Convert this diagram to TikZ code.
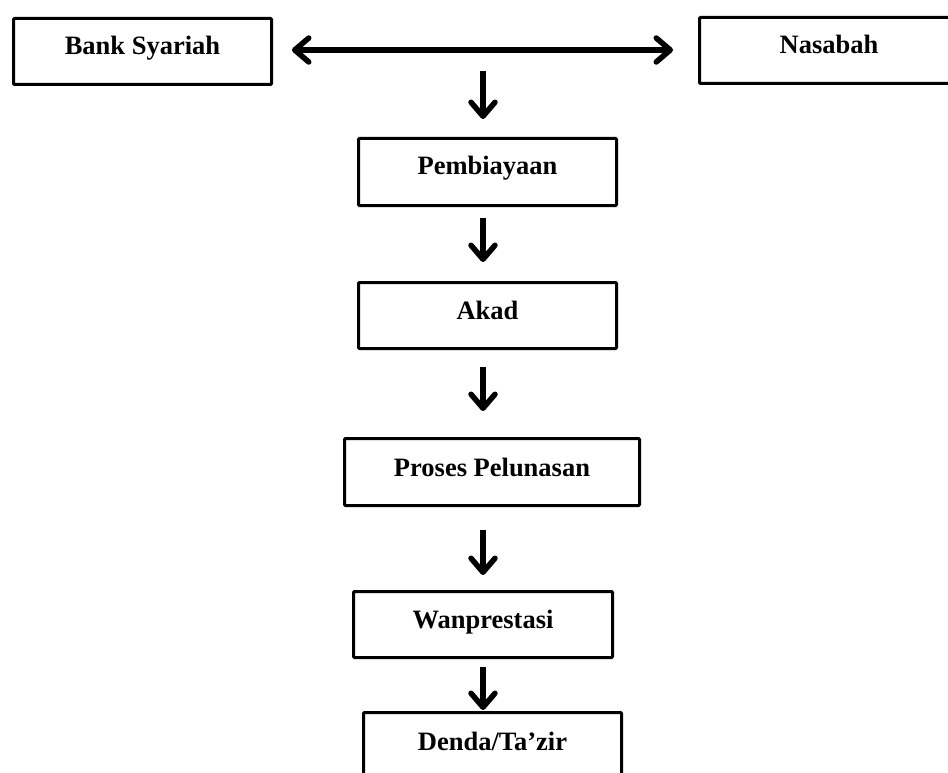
\documentclass[tikz,border=0pt]{standalone}
\usepackage{fontspec}
\setmainfont{Liberation Serif}
\usetikzlibrary{arrows.meta}
\tikzset{
  box/.style={draw=black, line width=3pt, rectangle, inner sep=0pt, anchor=base,
    font=\fontsize{26.5}{30}\selectfont\bfseries, rounded corners=1pt},
  arr/.style={line width=5.5pt, -{Straight Barb[length=14pt,width=24pt,line cap=round,round]}},
  darr/.style={line width=5.5pt, {Straight Barb[length=14pt,width=24pt,line cap=round,round]}-{Straight Barb[length=14pt,width=24pt,line cap=round,round]}},
}
\begin{document}
\begin{tikzpicture}[x=1pt,y=-1pt]
\useasboundingbox (0,0) rectangle (948,773);
\clip (0,0) rectangle (948,773);
% boxes: node at (centre x, baseline)
\node[box, minimum width=258pt, text height=36.5pt, text depth=29.5pt] (bank) at (142.5,55) {Bank Syariah};
\node[box, minimum width=259pt, text height=36.5pt, text depth=29.5pt] (nasabah) at (829,54) {Nasabah};
\node[box, minimum width=258pt, text height=36.5pt, text depth=30.5pt] (pemb) at (487.5,175) {Pembiayaan};
\node[box, minimum width=258pt, text height=36.5pt, text depth=29.5pt] (akad) at (487.5,319) {Akad};
\node[box, minimum width=295pt, text height=37.5pt, text depth=29.5pt] (proses) at (492,476) {Proses Pelunasan};
\node[box, minimum width=259pt, text height=36.5pt, text depth=29.5pt] (wan) at (483,628) {Wanprestasi};
\node[box, minimum width=258pt, text height=37.5pt, text depth=50pt] (denda) at (492.5,750) {Denda/Ta’zir};
% arrow column and top arrow start
\coordinate (ax) at (483,0);
\coordinate (top) at (483,71);
\draw[darr, shorten <=19pt, shorten >=25pt] (bank.east |- 0,50) -- (nasabah.west |- 0,50);
\draw[arr, shorten >=18pt] (top) -- (pemb.north -| ax);
\draw[arr, shorten <=11pt, shorten >=19pt] (pemb.south -| ax) -- (akad.north -| ax);
\draw[arr, shorten <=17pt, shorten >=26pt] (akad.south -| ax) -- (proses.north -| ax);
\draw[arr, shorten <=23pt, shorten >=15pt] (proses.south -| ax) -- (wan.north -| ax);
\draw[arr, shorten <=8pt, shorten >=1pt] (wan.south -| ax) -- (denda.north -| ax);
\end{tikzpicture}
\end{document}
